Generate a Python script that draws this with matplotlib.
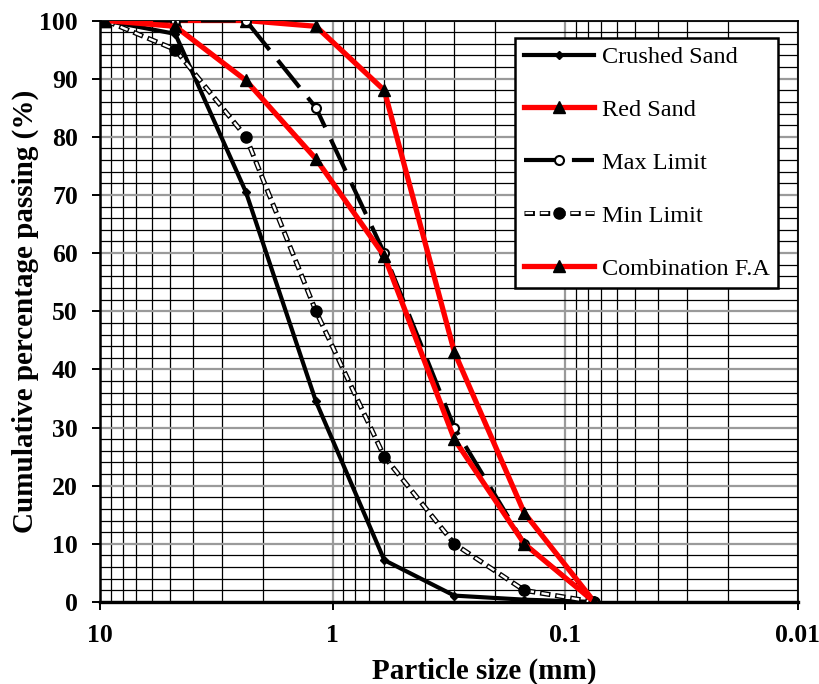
import matplotlib
matplotlib.use("Agg")
from matplotlib import pyplot as plt
from matplotlib.lines import Line2D
from matplotlib.legend_handler import HandlerTuple
from matplotlib.ticker import FixedLocator, MultipleLocator, NullFormatter

plt.rcParams['font.family'] = ['Liberation Serif', 'DejaVu Serif']
plt.rcParams['lines.scale_dashes'] = False  # dash lengths in points

sieve = [9.5, 4.75, 2.36, 1.18, 0.6, 0.3, 0.15, 0.075]
crushed_sand = [100, 97.7, 70.5, 34.5, 7.2, 1.1, 0.4, 0]
red_sand = [100, 100, 100, 99, 88, 43, 15.3, 0]
max_limit = [100, 100, 100, 85, 60, 30, 10, 0]
min_limit = [100, 95, 80, 50, 25, 10, 2, 0]
combination = [100, 99, 89.7, 76.2, 59.5, 28, 10, 0]

x_ticks = [10, 1, 0.1, 0.01]
x_ticklabels = ["10", "1", "0.1", "0.01"]

fig = plt.figure(figsize=(8.2, 6.84), dpi=100)
ax = fig.add_axes([100 / 820, 1 - 602 / 684, 698 / 820, 581.5 / 684])

ax.set_xscale('log')
ax.set_xlim(10, 0.01)
ax.set_ylim(0, 100)

# grid: major grey, minor black (as in the original)
ax.xaxis.set_major_locator(FixedLocator(x_ticks))
ax.set_xticklabels(x_ticklabels)
minor_x = [m * d for d in (0.01, 0.1, 1) for m in range(2, 10)]
ax.xaxis.set_minor_locator(FixedLocator(minor_x))
ax.xaxis.set_minor_formatter(NullFormatter())
ax.yaxis.set_major_locator(MultipleLocator(10))
ax.yaxis.set_minor_locator(MultipleLocator(2))
ax.grid(which='minor', color='black', lw=0.9, zorder=0)
ax.grid(which='major', color='#9a9a9a', lw=1.6, zorder=0)
ax.set_axisbelow(True)

ax.tick_params(which='major', direction='out', length=6, width=1.4, labelsize=18.5)
ax.tick_params(axis='y', pad=10)
ax.tick_params(axis='x', pad=10)
ax.tick_params(which='minor', length=0)
for lab in ax.get_xticklabels() + ax.get_yticklabels():
    lab.set_fontweight('bold')
for s in ax.spines.values():
    s.set_linewidth(1.3)
ax.spines['bottom'].set_linewidth(2.4)
ax.spines['left'].set_linewidth(1.8)

# min limit: outlined dashes (black dash, white core)
min_black = dict(color='black', lw=3.6, ls=(0, (7.5, 3.5)))
min_white = dict(color='white', lw=1.7, ls=(10.0, (5.5, 5.5)))
max_style = dict(color='black', lw=3.0, ls=(0, (25, 9.5)), marker='o', ms=6.5,
                 mfc='white', mec='black', mew=1.5)

ax.plot(sieve, crushed_sand, color='black', lw=3, marker='D', ms=4,
        mfc='black', mec='black', zorder=3)
ax.plot(sieve, red_sand, color='red', lw=3.8, marker='^', ms=8,
        mfc='black', mec='black', zorder=3)
ax.plot(sieve, max_limit, zorder=4, **max_style)
ax.plot(sieve, min_limit, zorder=4, **min_black)
ax.plot(sieve, min_limit, zorder=4, **min_white)
ax.plot(sieve, min_limit, ls='none', marker='o', ms=8, mfc='black', mec='black', zorder=5)
ax.plot(sieve, combination, color='red', lw=3.8, marker='^', ms=8,
        mfc='black', mec='black', zorder=5)

ax.set_xlabel('Particle size (mm)', fontsize=21, fontweight='bold')
ax.xaxis.set_label_coords(0.55, -0.095)
ax.set_ylabel('Cumulative percentage passing (%)', fontsize=21, fontweight='bold')
ax.yaxis.set_label_coords(-0.088, 0.5)

# legend
h_crushed = Line2D([], [], color='black', lw=3, marker='D', ms=4, mfc='black', mec='black')
h_red = Line2D([], [], color='red', lw=3.8, marker='^', ms=8, mfc='black', mec='black')
h_max = Line2D([], [], **max_style)
h_min = (Line2D([], [], **min_black),
         Line2D([], [], **min_white),
         Line2D([], [], ls='none', marker='o', ms=8, mfc='black', mec='black'))
h_comb = Line2D([], [], color='red', lw=3.8, marker='^', ms=8, mfc='black', mec='black')

leg = ax.legend([h_crushed, h_red, h_max, h_min, h_comb],
                ['Crushed Sand', 'Red Sand', 'Max Limit', 'Min Limit', 'Combination F.A'],
                handler_map={tuple: HandlerTuple(ndivide=1, pad=0)},
                loc='upper right', bbox_to_anchor=(678 / 698, 1 - 17 / 581.5), fontsize=17.5,
                frameon=True, fancybox=False, framealpha=1, edgecolor='black',
                handlelength=2.9, handletextpad=0.3, labelspacing=1.27,
                borderpad=0.35, borderaxespad=0)
leg.get_frame().set_linewidth(1.8)
leg.set_zorder(10)

fig.savefig('out.png', dpi=100)
